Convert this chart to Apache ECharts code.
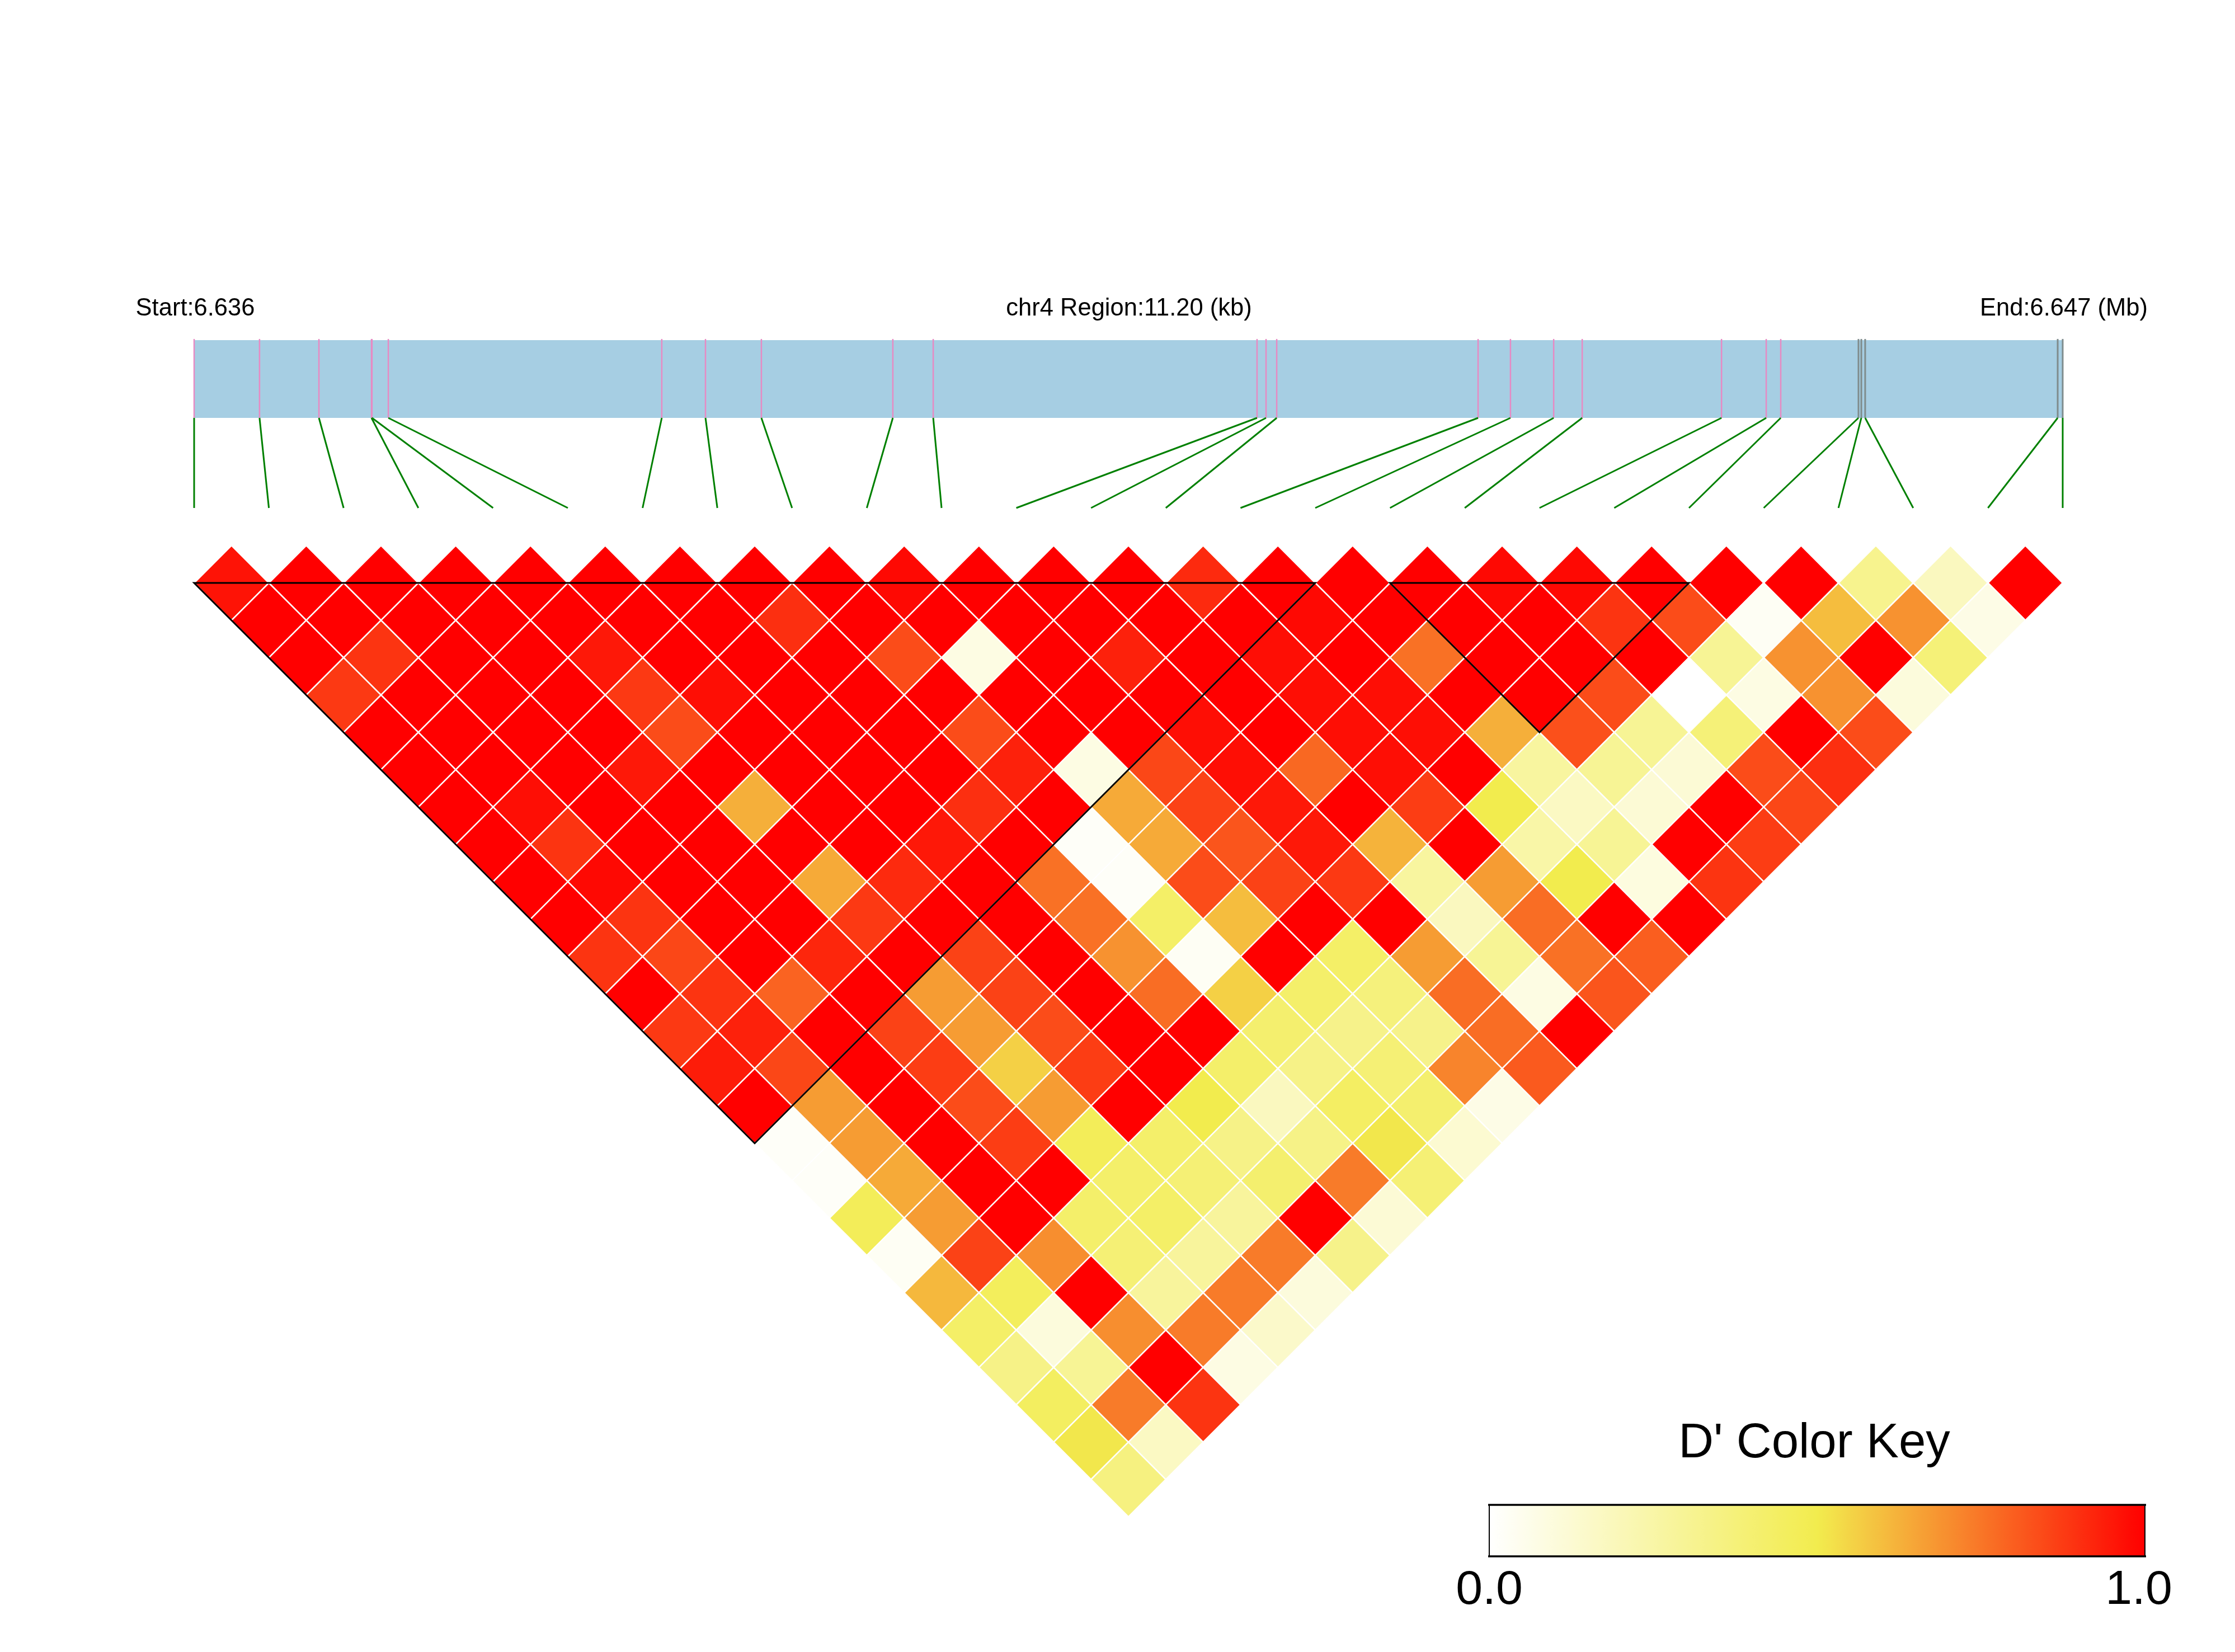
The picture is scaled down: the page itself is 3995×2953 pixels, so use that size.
<!DOCTYPE html>
<html><head><meta charset="utf-8">
<style>html,body{margin:0;padding:0;background:#fff}#c{width:3995px;height:2953px}</style>
<script src="https://cdn.jsdelivr.net/npm/echarts@6/dist/echarts.min.js"></script>
</head><body><div id="c"></div>
<script>
// SNP physical positions, kb from region start
const snpPosKb = [0,.392,.748,1.063,1.066,1.164,2.803,3.065,3.400,4.188,4.430,6.371,6.425,6.489,7.696,7.890,8.149,8.320,9.155,9.423,9.510,9.976,9.993,10.016,11.170,11.200];
const snpClass = [0,0,0,0,0,0,0,0,0,0,0,0,0,0,0,0,0,0,0,0,0,1,1,1,1,1];
const regionKb = 11.20;
const startLabel = 'Start:6.636', regionLabel = 'chr4 Region:11.20 (kb)', endLabel = 'End:6.647 (Mb)';
const keyTitle = "D' Color Key";
const keyTicks = ['0.0','1.0'];
// haplotype blocks, as first and last SNP index
const blocks = [[0,15],[16,20]];
// D' per SNP separation: ldRow0 = neighbours, ldRow1 = one SNP apart, ...
const ldRow0  = [.96,1,1,1,1,1,1,1,1,.98,1,1,1,.91,1,1,1,.98,.98,1,1,1,.32,.18,1];
const ldRow1  = [1,1,1,1,1,1,1,.9,1,1,1,1,1,1,.98,1,1,1,.89,.84,.03,.6,.69,.07];
const ldRow2  = [1,.89,1,1,.95,1,1,1,.84,.08,1,.93,1,.97,1,.76,1,1,1,.3,.69,1,.38];
const ldRow3  = [.88,1,1,1,.88,.97,1,1,1,1,1,1,1,.97,.97,1,1,.84,0,.08,.69,.1];
const ldRow4  = [1,1,1,1,.84,1,1,1,.84,1,1,.97,1,.97,.97,.63,.83,.3,.38,1,.84];
const ldRow5  = [1,1,1,.95,1,1,1,1,.93,.08,.85,.97,.78,.97,1,.27,.3,.12,.84,.9];
const ldRow6  = [1,.97,1,1,.63,1,1,.9,1,.64,.86,.95,1,.87,.5,.17,.12,1,.85];
const ldRow7  = [1,.89,1,1,1,1,.95,1,.02,.64,.82,.95,.62,1,.25,.3,1,.87];
const ldRow8  = [1,.98,1,1,.64,.91,1,.76,.02,.84,.86,.88,.27,.67,.5,.09,.89];
const ldRow9  = [1,.89,1,1,.88,1,1,.76,.43,.6,1,1,.18,.77,1,1];
const ldRow10 = [.89,.85,1,.92,1,.86,1,.69,.03,1,.43,.67,.3,.76,.8];
const ldRow11 = [1,.89,.79,1,.67,.86,1,.77,.56,.42,.37,.77,.08,.82];
const ldRow12 = [.88,.93,1,.86,.67,.84,1,1,.41,.33,.33,.77,1];
const ldRow13 = [.94,.85,1,.87,.56,.87,1,.42,.34,.39,.72,.81];
const ldRow14 = [1,.67,1,.84,.67,1,.5,.18,.44,.41,.07];
const ldRow15 = [.02,.67,1,.87,.47,.42,.34,.34,.51,.13];
const ldRow16 = [.02,.64,1,1,.42,.39,.41,.74,.39];
const ldRow17 = [.47,.67,1,.42,.43,.28,1,.12];
const ldRow18 = [.03,.86,.7,.39,.28,.74,.33];
const ldRow19 = [.61,.46,1,.28,.74,.1];
const ldRow20 = [.43,.1,.7,.74,.15];
const ldRow21 = [.34,.3,1,.08];
const ldRow22 = [.45,.74,.89];
const ldRow23 = [.51,.17];
const ldRow24 = [.36];
const ldRows = [ldRow0,ldRow1,ldRow2,ldRow3,ldRow4,ldRow5,ldRow6,ldRow7,ldRow8,ldRow9,ldRow10,ldRow11,ldRow12,ldRow13,ldRow14,ldRow15,ldRow16,ldRow17,ldRow18,ldRow19,ldRow20,ldRow21,ldRow22,ldRow23,ldRow24];

const FONT = '"Liberation Sans", Arial, sans-serif';
const nSpan = snpPosKb.length - 1;
const cells = [];
ldRows.forEach((row, r) => row.forEach((v, p) => cells.push([p + .5 + r / 2, r, v])));

const hidden = {show:false};
const valAxis = (gridIndex, min, max, extra) => Object.assign({type:'value', gridIndex, min, max, axisLine:hidden, axisTick:hidden, splitLine:hidden, axisLabel:hidden}, extra||{});

const chart = echarts.init(document.getElementById('c'), null, {renderer:'canvas', width:3995, height:2953});
chart.setOption({
  animation:false,
  backgroundColor:'#ffffff',
  grid:[
    {left:347, top:1042, width:3340, height:1669.5},
    {left:347, top:608, width:3340, height:300},
    {left:2662, top:2690, width:1172, height:92}
  ],
  xAxis:[
    valAxis(0, 0, nSpan),
    valAxis(1, 0, regionKb),
    valAxis(2, 0, 1, {interval:1, axisLabel:{show:true, margin:18, fontFamily:FONT, fontSize:86, color:'#000',
      formatter:(v)=> v===0 ? '{a|'+keyTicks[0]+'}' : '{b|'+keyTicks[1]+'}',
      rich:{a:{fontFamily:FONT,fontSize:86,color:'#000'}, b:{fontFamily:FONT,fontSize:86,color:'#000',padding:[0,22,0,0]}}}})
  ],
  yAxis:[
    valAxis(0, 0, nSpan, {inverse:true}),
    valAxis(1, 0, 300/139, {inverse:true}),
    valAxis(2, 0, 1)
  ],
  visualMap:{
    type:'continuous', seriesIndex:0, dimension:2, min:0, max:1, orient:'horizontal',
    left:2662, top:2690, itemWidth:92, itemHeight:1172, padding:0,
    calculable:false, realtime:false, hoverLink:false, text:null, showLabel:false,
    inRange:{color:['#FFFFFF','#F2EC4E','#FF0000']}
  },
  series:[
    {type:'custom', xAxisIndex:0, yAxisIndex:0, coordinateSystem:'cartesian2d', data:cells, encode:{x:0,y:1}, silent:true,
     renderItem:(params, api)=>{
       const s=api.value(0), r=api.value(1);
       const pts=[api.coord([s-.5,r]),api.coord([s,r-1]),api.coord([s+.5,r]),api.coord([s,r+1])];
       return {type:'polygon', shape:{points:pts}, style:{fill:api.visual('color'), stroke:'#FFFFFF', lineWidth:2.5}};
     }},
    {type:'custom', xAxisIndex:0, yAxisIndex:0, coordinateSystem:'cartesian2d', data:blocks, silent:true, z:5,
     encode:{x:[0,1]},
     renderItem:(params, api)=>{
       const a=api.value(0), b=api.value(1);
       const pts=[api.coord([a,0]),api.coord([b,0]),api.coord([(a+b)/2,b-a])];
       return {type:'polygon', shape:{points:pts}, style:{fill:'none', stroke:'#000', lineWidth:3, lineJoin:'miter'}};
     }},
    {type:'custom', xAxisIndex:1, yAxisIndex:1, coordinateSystem:'cartesian2d', data:[[0,regionKb]], silent:true, z:1,
     encode:{x:[0,1]},
     renderItem:(params, api)=>{
       const p0=api.coord([api.value(0),0]), p1=api.coord([api.value(1),1]);
       return {type:'rect', shape:{x:p0[0],y:p0[1],width:p1[0]-p0[0],height:p1[1]-p0[1]}, style:{fill:'#A6CEE3'}};
     }},
    {type:'custom', xAxisIndex:1, yAxisIndex:1, coordinateSystem:'cartesian2d', silent:true, z:2,
     data:snpPosKb.map((k,i)=>[k,snpClass[i]]), encode:{x:0},
     renderItem:(params, api)=>{
       const k=api.value(0), grey=api.value(1)===1;
       const a=api.coord([k,-.015]), b=api.coord([k,1]);
       return {type:'line', shape:{x1:a[0],y1:a[1],x2:b[0],y2:b[1]}, style:{stroke:grey?'#7F8C8D':'#E78AC3', lineWidth:grey?3:2.5}};
     }},
    {type:'custom', xAxisIndex:1, yAxisIndex:1, coordinateSystem:'cartesian2d', silent:true, z:2,
     data:snpPosKb.map((k,i)=>[k,i*regionKb/nSpan]), encode:{x:[0,1]},
     renderItem:(params, api)=>{
       const a=api.coord([api.value(0),1]), b=api.coord([api.value(1),300/139]);
       return {type:'line', shape:{x1:a[0],y1:a[1],x2:b[0],y2:b[1]}, style:{stroke:'#008000', lineWidth:3}};
     }},
    {type:'custom', xAxisIndex:2, yAxisIndex:2, coordinateSystem:'cartesian2d', silent:true, z:10,
     data:[[0,1]], encode:{x:[0,1]},
     renderItem:(params, api)=>{
       const tl=api.coord([0,1]), br=api.coord([1,0]);
       const seg=(x1,y1,x2,y2,w)=>({type:'line', shape:{x1,y1,x2,y2}, style:{stroke:'#000', lineWidth:w}});
       return {type:'group', children:[
         seg(tl[0]-2,tl[1],br[0]+2,tl[1],3.5), seg(tl[0]-2,br[1],br[0]+2,br[1],3.5),
         seg(tl[0],tl[1],tl[0],br[1],2), seg(br[0],tl[1],br[0],br[1],2)
       ]};
     }}
  ],
  graphic:[
    {type:'text', x:349, y:552, silent:true, style:{text:startLabel, font:'43.5px '+FONT, fill:'#000', textAlign:'center', textVerticalAlign:'middle'}},
    {type:'text', x:2018, y:552, silent:true, style:{text:regionLabel, font:'43.5px '+FONT, fill:'#000', textAlign:'center', textVerticalAlign:'middle'}},
    {type:'text', x:3689, y:552, silent:true, style:{text:endLabel, font:'43.5px '+FONT, fill:'#000', textAlign:'center', textVerticalAlign:'middle'}},
    {type:'text', x:3243, y:2581, silent:true, style:{text:keyTitle, font:'87px '+FONT, fill:'#000', textAlign:'center', textVerticalAlign:'middle'}}
  ]
});
</script></body></html>
